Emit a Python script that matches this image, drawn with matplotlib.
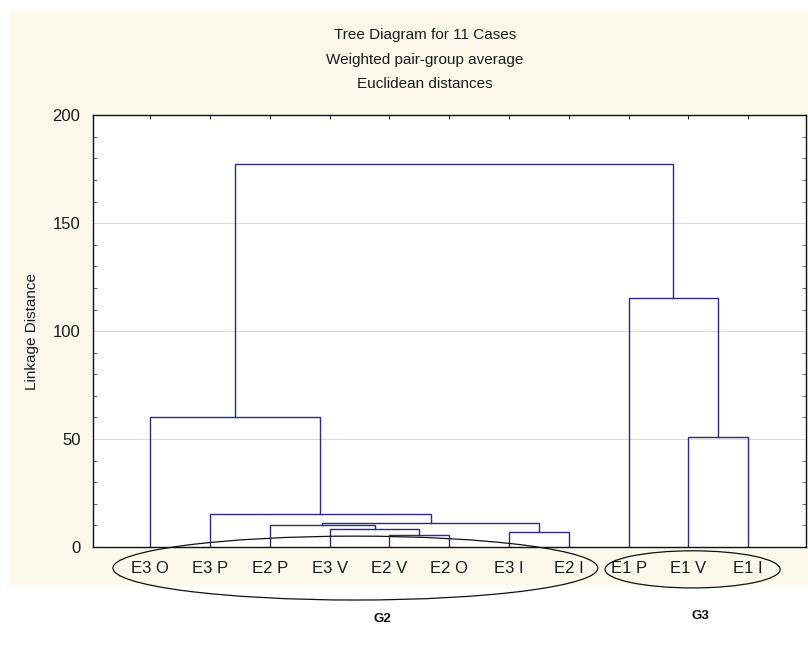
import numpy as np
import matplotlib
matplotlib.use("Agg")
import matplotlib.pyplot as plt
from matplotlib.patches import Ellipse, Rectangle
from matplotlib.transforms import blended_transform_factory

plt.rcParams['font.family'] = ['Liberation Sans', 'DejaVu Sans']

# leaves in dendrogram order
leaf_labels = ["E3 O", "E3 P", "E2 P", "E3 V", "E2 V", "E2 O", "E3 I", "E2 I",
               "E1 P", "E1 V", "E1 I"]

# merges: node ids 0..10 are leaves, each merge creates node 11, 12, ...
merge_left = [4, 3, 2, 6, 13, 1, 0, 9, 8, 17]
merge_right = [5, 11, 12, 7, 14, 15, 16, 10, 18, 19]
merge_height = [5.4, 8.1, 10.2, 6.9, 11.1, 15.3, 60.0, 51.0, 115.5, 177.5]

# hand-drawn group ellipses (centre / width in leaf units)
group_names = ["G2", "G3"]
group_center = [4.43, 10.07]
group_width = [8.11, 2.93]
group_label_x = [4.88, 10.2]

yticks = [0, 50, 100, 150, 200]
title_lines = ["Tree Diagram for 11 Cases", "Weighted pair-group average", "Euclidean distances"]

line_color = "#2b2b85"
text_color = "#1a1a1a"
cream = "#fcf9ec"

fig = plt.figure(figsize=(8.08, 6.55), dpi=100, facecolor="white")
fig.patches.append(Rectangle((0.012, 0.105), 0.988, 0.877, transform=fig.transFigure,
                             facecolor=cream, edgecolor="none", zorder=-10))
ax = fig.add_axes([0.115, 0.165, 0.882, 0.659])
ax.set_facecolor("white")

# node positions
n = len(leaf_labels)
node_x = {i: i + 1.0 for i in range(n)}
node_h = {i: 0.0 for i in range(n)}
for k, (a, b, h) in enumerate(zip(merge_left, merge_right, merge_height)):
    nid = n + k
    ax.plot([node_x[a], node_x[a], node_x[b], node_x[b]],
            [node_h[a], h, h, node_h[b]], color=line_color, lw=1.0, solid_joinstyle="miter")
    node_x[nid] = (node_x[a] + node_x[b]) / 2
    node_h[nid] = h

ax.set_xlim(0.04, 11.96)
ax.set_ylim(0, 200)
ax.set_yticks(yticks)
ax.set_yticks(np.arange(0, 201, 10), minor=True)
ax.set_xticks(np.arange(1, n + 1))
ax.set_xticklabels(leaf_labels)
ax.yaxis.grid(True, color="#dcdcdc", lw=0.8)
ax.set_axisbelow(True)
ax.tick_params(axis="y", which="major", direction="in", length=0, labelsize=12,
               labelcolor=text_color, pad=9, right=False)
ax.tick_params(axis="y", which="minor", direction="in", length=3, color="#555555",
               left=True, right=True, width=0.6)
ax.tick_params(axis="x", direction="in", length=3, top=True, bottom=False, labelsize=12,
               labelcolor=text_color, pad=10, width=0.6)
for s in ax.spines.values():
    s.set_linewidth(1.0)
    s.set_color("#111111")

ax.set_ylabel("Linkage Distance", fontsize=11, color=text_color, labelpad=10)

for i, line in enumerate(title_lines):
    fig.text(0.526, 0.946 - i * 0.037, line, ha="center", va="center",
             fontsize=11, color=text_color)

# group ellipses around the leaf labels
trans = blended_transform_factory(ax.transData, ax.transAxes)
ell_y = [-0.049, -0.052]
ell_h = [0.148, 0.086]
name_y = [-0.166, -0.160]
for cx, w, ey, eh, lx, ny, name in zip(group_center, group_width, ell_y, ell_h,
                                       group_label_x, name_y, group_names):
    e = Ellipse((cx, ey), w, eh, transform=trans, fill=False,
                edgecolor="#111111", lw=0.9, clip_on=False, zorder=5)
    ax.add_patch(e)
    ax.text(lx, ny, name, transform=trans, ha="center", va="center",
            fontsize=9.5, fontweight="bold", color="#111111")

plt.savefig("out.png", dpi=100, facecolor=fig.get_facecolor())
plt.close()
